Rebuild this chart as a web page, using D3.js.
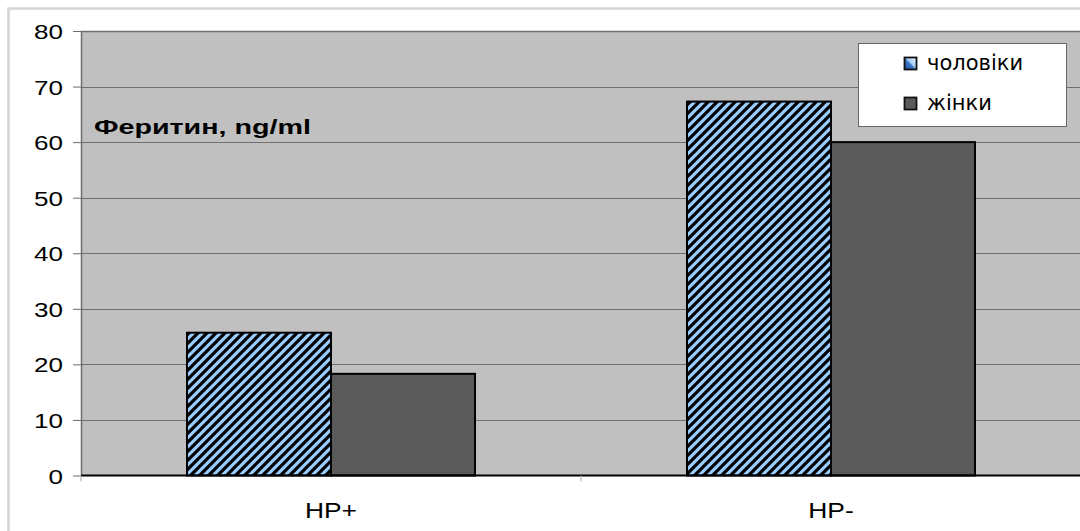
<!DOCTYPE html>
<html><head><meta charset="utf-8">
<script src="https://cdn.jsdelivr.net/npm/d3@7"></script>
<style>body{margin:0;background:#fff}svg{display:block}</style>
</head><body>
<svg id="c" width="1080" height="531"></svg>
<script>
const categories = ["HP+", "HP-"];
const seriesNames = ["чоловіки", "жінки"];
const men = [25.7, 67.3];
const women = [18.3, 60.0];
const yTicks = [0, 10, 20, 30, 40, 50, 60, 70, 80];
const chartTitle = "Феритин, ng/ml";

const SX = 1.24; // horizontal text stretch seen in reference
const FONT = "Liberation Sans, Arial, sans-serif";

const svg = d3.select("#c");
const defs = svg.append("defs");
const pat = defs.append("pattern").attr("id","hatch").attr("patternUnits","userSpaceOnUse")
  .attr("width",9).attr("height",9);
pat.append("rect").attr("width",9).attr("height",9).attr("fill","#99ccff");
pat.append("path").attr("d","M-2,11 L11,-2 M-11,11 L2,-2 M7,20 L20,7 M-2,2 L2,-2 M7,11 L11,7")
  .attr("stroke","#000").attr("stroke-width",3.2);
const lgGrad = defs.append("linearGradient").attr("id","lgg").attr("x1",0).attr("y1",1).attr("x2",1).attr("y2",0);
lgGrad.append("stop").attr("offset","0%").attr("stop-color","#1d4f9a");
lgGrad.append("stop").attr("offset","45%").attr("stop-color","#3a78c8");
lgGrad.append("stop").attr("offset","55%").attr("stop-color","#a8d0f5");
lgGrad.append("stop").attr("offset","100%").attr("stop-color","#e6f2ff");

// outer frame
svg.append("rect").attr("x",8.5).attr("y",8.5).attr("width",1080).attr("height",540)
  .attr("fill","none").attr("stroke","#d4d4d4").attr("stroke-width",2.5);

const L = 81, R = 1081, T = 31, B = 475.5;
const x = d3.scaleBand().domain(categories).range([L, R]);
const y = d3.scaleLinear().domain([0, 80]).range([B, T]);

svg.append("rect").attr("x",L).attr("y",T).attr("width",R-L).attr("height",B-T).attr("fill","#c0c0c0");

// grid
svg.append("g").selectAll("line").data(yTicks.filter(d=>d>0)).join("line")
  .attr("x1",L).attr("x2",R).attr("y1",d=>Math.round(y(d))+0.5).attr("y2",d=>Math.round(y(d))+0.5)
  .attr("stroke","#6e6e6e").attr("stroke-width",1);

// plot border left/top
svg.append("path").attr("d",`M${L+0.5},${B} V${T+0.5} H${R}`).attr("fill","none").attr("stroke","#6e6e6e").attr("stroke-width",1.5);

// y axis
const yAxis = d3.axisLeft(y).tickValues(yTicks).tickSize(8).tickPadding(8);
const ga = svg.append("g").attr("transform",`translate(${L},0)`).call(yAxis);
ga.select(".domain").remove();
ga.selectAll(".tick line").attr("stroke","#6e6e6e");
ga.selectAll(".tick text").attr("font-family",FONT).attr("font-size",21).attr("fill","#000")
  .attr("x",-18/SX).attr("dy","0.36em").attr("transform",`scale(${SX},1)`);

// bars
const inner = d3.scaleBand().domain(seriesNames).range([0, x.bandwidth()]).paddingOuter(0.736).paddingInner(0);
const data = [];
categories.forEach((c,i)=>{ data.push({c, s:seriesNames[0], v:men[i]}); data.push({c, s:seriesNames[1], v:women[i]}); });
svg.append("g").selectAll("rect").data(data).join("rect")
  .attr("x",d=>x(d.c)+inner(d.s)).attr("width",inner.bandwidth())
  .attr("y",d=>y(d.v)).attr("height",d=>B-y(d.v))
  .attr("fill",d=>d.s===seriesNames[0]?"url(#hatch)":"#5a5a5a")
  .attr("stroke","#000").attr("stroke-width",2);

// x axis
svg.append("line").attr("x1",L).attr("x2",R).attr("y1",B).attr("y2",B).attr("stroke","#000").attr("stroke-width",2);
svg.append("g").selectAll("line").data([L, x("HP-")]).join("line")
  .attr("x1",d=>d).attr("x2",d=>d).attr("y1",B).attr("y2",B+6).attr("stroke","#aaa");
svg.append("g").selectAll("text").data(categories).join("text")
  .attr("transform",d=>`translate(${x(d)+x.bandwidth()/2},518) scale(1.2,1)`).attr("text-anchor","middle")
  .attr("font-family",FONT).attr("font-size",22).text(d=>d);

// title
svg.append("text").attr("transform","translate(94,134)").attr("font-family",FONT)
  .attr("font-size",20).attr("font-weight","bold").attr("textLength",217).attr("lengthAdjust","spacingAndGlyphs")
  .text(chartTitle);

// legend
const lg = svg.append("g");
lg.append("rect").attr("x",858.5).attr("y",43.5).attr("width",208).attr("height",83).attr("fill","#fff").attr("stroke","#666");
const items = lg.selectAll("g").data(seriesNames).join("g").attr("transform",(d,i)=>`translate(904,${57+i*40})`);
items.append("rect").attr("width",12).attr("height",12).attr("x",0.5).attr("y",0.5)
  .attr("fill",(d,i)=>i===0?"url(#lgg)":"#5a5a5a").attr("stroke","#111").attr("stroke-width",1.8);
items.append("text").attr("x",23).attr("y",12.5).attr("font-family","DejaVu Sans, sans-serif")
  .attr("font-size",21).text(d=>d);
</script>
</body></html>
